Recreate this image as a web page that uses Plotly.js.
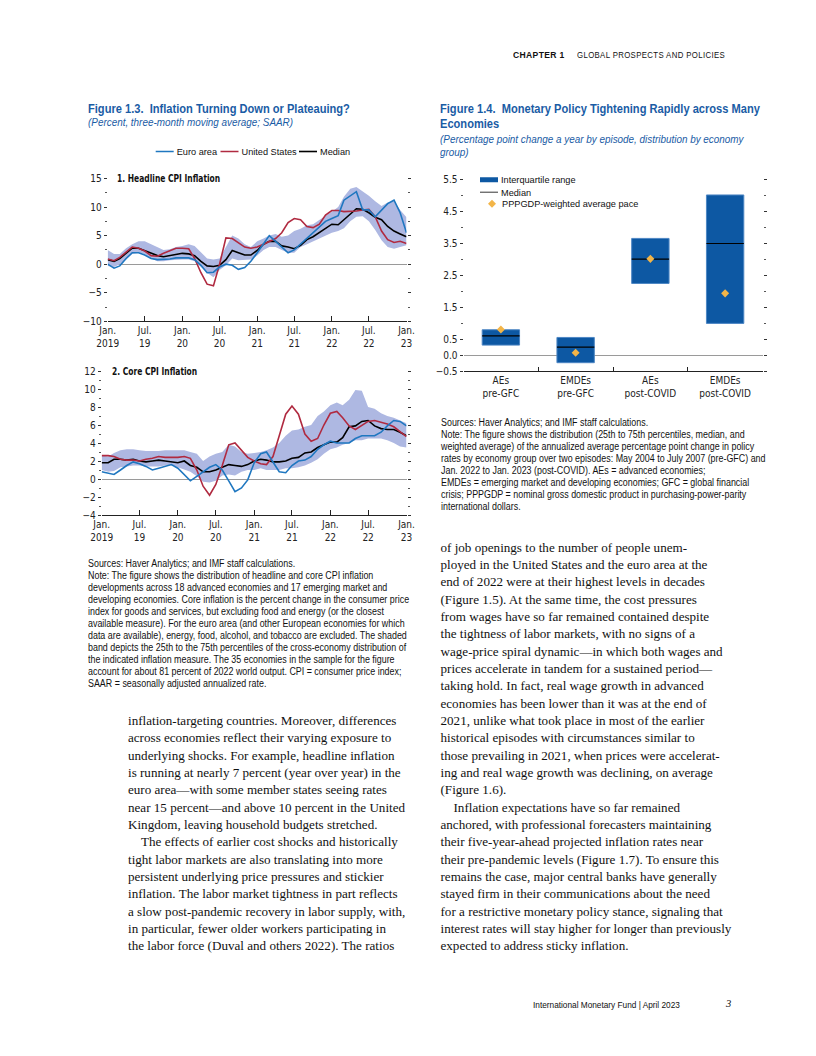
<!DOCTYPE html>
<html><head><meta charset="utf-8">
<script src="https://cdn.plot.ly/plotly-3.0.1.min.js"></script>
<style>
body{margin:0;background:#fff;}
#page{position:relative;width:816px;height:1056px;overflow:hidden;background:#fff;}
#chart{position:absolute;left:0;top:0;width:816px;height:1056px;}
#chart g.legendlines{transform:translate(16px,0px) scale(0.6,1);}
#chart g.legendsymbols{transform:translate(10px,0px);}
.t{position:absolute;white-space:nowrap;z-index:5;color:#111;transform-origin:0 0;}
.nar{font-family:"Liberation Sans",Arial,sans-serif;}
.ser{font-family:"Liberation Serif","Times New Roman",serif;}
.ftitle{font-weight:bold;font-size:12px;color:#1a5ca5;line-height:15.5px;transform:scaleX(0.925);}
.fsub{font-style:italic;font-size:11.5px;color:#1a5ca5;line-height:13.5px;transform:scaleX(0.86);}
.src{font-size:10px;line-height:12px;transform:scaleX(0.89);}
.body{font-size:13.1px;line-height:17.35px;}
.ind{display:inline-block;width:13px;}
</style></head>
<body><div id="page">
<div id="chart"></div>

<div class="t nar" style="left:513px;top:48.5px;font-size:9.5px;line-height:11px;font-weight:bold;letter-spacing:0.4px;transform:scaleX(0.9);">CHAPTER 1</div>
<div class="t nar" style="left:577px;top:48.5px;font-size:9.5px;line-height:11px;letter-spacing:0.45px;transform:scaleX(0.82);">GLOBAL PROSPECTS AND POLICIES</div>

<div class="t nar ftitle" style="left:88px;top:102px;">Figure 1.3.&nbsp; Inflation Turning Down or Plateauing?</div>
<div class="t nar fsub" style="left:88px;top:115.5px;">(Percent, three-month moving average; SAAR)</div>

<div class="t nar ftitle" style="left:440px;top:101.5px;">Figure 1.4.&nbsp; Monetary Policy Tightening Rapidly across Many<br>Economies</div>
<div class="t nar fsub" style="left:440px;top:132.5px;">(Percentage point change a year by episode, distribution by economy<br>group)</div>

<div class="t nar src" style="left:88px;top:558px;">Sources: Haver Analytics; and IMF staff calculations.<br>
Note: The figure shows the distribution of headline and core CPI inflation<br>
developments across 18 advanced economies and 17 emerging market and<br>
developing economies. Core inflation is the percent change in the consumer price<br>
index for goods and services, but excluding food and energy (or the closest<br>
available measure). For the euro area (and other European economies for which<br>
data are available), energy, food, alcohol, and tobacco are excluded. The shaded<br>
band depicts the 25th to the 75th percentiles of the cross-economy distribution of<br>
the indicated inflation measure. The 35 economies in the sample for the figure<br>
account for about 81 percent of 2022 world output. CPI = consumer price index;<br>
SAAR = seasonally adjusted annualized rate.</div>

<div class="t nar src" style="left:441px;top:417px;">Sources: Haver Analytics; and IMF staff calculations.<br>
Note: The figure shows the distribution (25th to 75th percentiles, median, and<br>
weighted average) of the annualized average percentage point change in policy<br>
rates by economy group over two episodes: May 2004 to July 2007 (pre-GFC) and<br>
Jan. 2022 to Jan. 2023 (post-COVID). AEs = advanced economies;<br>
EMDEs = emerging market and developing economies; GFC = global financial<br>
crisis; PPPGDP = nominal gross domestic product in purchasing-power-parity<br>
international dollars.</div>

<div class="t ser body" style="left:128px;top:712px;">inflation-targeting countries. Moreover, differences<br>
across economies reflect their varying exposure to<br>
underlying shocks. For example, headline inflation<br>
is running at nearly 7 percent (year over year) in the<br>
euro area—with some member states seeing rates<br>
near 15 percent—and above 10 percent in the United<br>
Kingdom, leaving household budgets stretched.<br>
<span class="ind"></span>The effects of earlier cost shocks and historically<br>
tight labor markets are also translating into more<br>
persistent underlying price pressures and stickier<br>
inflation. The labor market tightness in part reflects<br>
a slow post-pandemic recovery in labor supply, with,<br>
in particular, fewer older workers participating in<br>
the labor force (Duval and others 2022). The ratios</div>

<div class="t ser body" style="left:440.5px;top:538.5px;">of job openings to the number of people unem-<br>
ployed in the United States and the euro area at the<br>
end of 2022 were at their highest levels in decades<br>
(Figure 1.5). At the same time, the cost pressures<br>
from wages have so far remained contained despite<br>
the tightness of labor markets, with no signs of a<br>
wage-price spiral dynamic—in which both wages and<br>
prices accelerate in tandem for a sustained period—<br>
taking hold. In fact, real wage growth in advanced<br>
economies has been lower than it was at the end of<br>
2021, unlike what took place in most of the earlier<br>
historical episodes with circumstances similar to<br>
those prevailing in 2021, when prices were accelerat-<br>
ing and real wage growth was declining, on average<br>
(Figure 1.6).<br>
<span class="ind"></span>Inflation expectations have so far remained<br>
anchored, with professional forecasters maintaining<br>
their five-year-ahead projected inflation rates near<br>
their pre-pandemic levels (Figure 1.7). To ensure this<br>
remains the case, major central banks have generally<br>
stayed firm in their communications about the need<br>
for a restrictive monetary policy stance, signaling that<br>
interest rates will stay higher for longer than previously<br>
expected to address sticky inflation.</div>

<div class="t nar" style="left:533px;top:998.5px;font-size:9.5px;line-height:11px;transform:scaleX(0.87);">International Monetary Fund | April 2023</div>
<div class="t ser" style="left:726px;top:997.5px;font-size:10.5px;font-style:italic;">3</div>
</div>

<script>
// ---------------- DATA ----------------
const months = [
 '2019-01-01','2019-02-01','2019-03-01','2019-04-01','2019-05-01','2019-06-01','2019-07-01','2019-08-01','2019-09-01','2019-10-01','2019-11-01','2019-12-01',
 '2020-01-01','2020-02-01','2020-03-01','2020-04-01','2020-05-01','2020-06-01','2020-07-01','2020-08-01','2020-09-01','2020-10-01','2020-11-01','2020-12-01',
 '2021-01-01','2021-02-01','2021-03-01','2021-04-01','2021-05-01','2021-06-01','2021-07-01','2021-08-01','2021-09-01','2021-10-01','2021-11-01','2021-12-01',
 '2022-01-01','2022-02-01','2022-03-01','2022-04-01','2022-05-01','2022-06-01','2022-07-01','2022-08-01','2022-09-01','2022-10-01','2022-11-01','2022-12-01',
 '2023-01-01'];

// Panel 1: headline CPI inflation
const headlineEuro = [0.0,-0.7,-0.3,1.0,2.0,2.0,1.6,1.0,0.8,0.8,0.9,1.1,
 1.1,1.1,0.8,-0.2,-1.5,-1.4,-0.5,0.0,-0.2,-0.9,-0.6,0.5,
 2.0,3.5,5.0,4.0,3.0,2.0,2.5,3.5,4.5,5.5,6.5,7.5,
 8.0,8.5,11.2,12.0,12.7,9.5,9.5,8.3,9.5,10.6,11.2,9.0,
 5.5];
const headlineUS = [0.9,0.6,1.2,2.2,3.0,2.8,2.3,1.5,1.4,1.9,2.4,2.8,
 2.8,2.7,1.0,-1.5,-3.5,-3.8,0.0,4.6,4.5,3.8,3.0,2.8,
 3.0,3.5,4.0,4.5,5.5,7.3,8.0,7.8,6.6,6.4,7.0,8.6,
 9.4,9.4,9.2,9.2,9.3,9.5,9.6,8.3,5.8,4.3,3.8,4.0,
 3.6];
const headlineMedian = [0.8,0.5,1.0,2.0,2.8,2.8,2.4,1.9,1.5,1.3,1.5,1.8,
 1.9,1.8,1.5,0.5,-0.3,-0.4,-0.2,0.8,2.4,2.0,1.6,1.6,
 2.4,3.5,4.0,4.0,3.2,3.0,2.7,3.3,4.3,4.8,5.5,6.3,
 7.0,6.9,7.8,8.9,9.7,9.6,9.0,8.2,7.8,6.6,5.8,5.3,
 4.8];
const headlineP25 = [-0.3,-0.5,0.0,0.8,1.8,2.0,1.8,1.0,0.5,0.5,0.7,0.8,
 0.8,0.8,0.5,-0.5,-1.5,-2.3,-1.0,-0.2,1.0,0.7,0.7,0.8,
 1.5,2.5,3.0,3.0,2.5,2.0,2.0,3.0,3.5,4.0,4.5,5.0,
 5.5,5.8,6.3,7.5,8.3,8.4,7.5,6.0,4.2,3.0,2.7,3.0,
 3.3];
const headlineP75 = [2.5,1.8,1.8,2.8,3.5,4.0,4.0,3.5,3.0,2.5,2.6,3.0,
 3.2,3.5,3.2,2.0,1.0,0.8,1.0,3.0,5.0,4.5,3.5,3.0,
 4.0,4.5,5.0,5.3,4.8,5.0,5.8,6.2,6.8,7.0,7.8,8.5,
 9.2,10.0,11.8,13.2,13.5,12.8,12.0,11.0,10.2,10.8,11.0,9.5,
 8.2];

// Panel 2: core CPI inflation
const coreEuro = [0.8,0.6,0.5,1.0,1.5,1.9,1.7,1.4,1.0,1.2,1.4,1.6,
 1.2,0.5,-0.2,0.3,0.8,1.3,1.6,1.0,-0.2,-1.4,-1.0,-0.1,
 1.8,2.8,3.0,1.8,0.8,0.7,1.5,2.0,2.1,2.5,3.3,3.8,
 4.2,4.0,4.0,4.0,4.5,4.8,4.8,4.8,5.2,5.9,6.5,6.4,
 5.9];
const coreUS = [2.6,2.6,2.5,2.2,2.1,2.1,2.0,2.2,2.3,2.5,2.4,2.4,
 2.4,2.5,2.3,1.0,-0.8,-1.8,-0.6,1.5,3.8,4.0,3.2,2.4,
 2.0,1.7,1.6,2.5,4.8,7.2,8.1,7.2,5.0,4.2,4.5,6.0,
 7.3,7.5,6.8,5.9,5.5,6.0,6.4,6.5,6.3,6.1,5.8,5.3,
 4.7];
const coreMedian = [1.8,1.8,2.2,2.2,2.1,2.2,2.0,1.9,2.0,2.1,2.0,1.9,
 1.8,2.0,1.5,1.3,0.8,0.8,1.0,1.3,1.6,1.5,1.4,1.6,
 2.0,2.2,2.1,1.9,1.9,2.0,2.3,2.4,2.9,3.0,3.5,3.8,
 4.1,4.1,4.6,5.8,5.9,6.4,6.5,5.9,5.6,5.5,5.5,5.2,
 4.8];
const coreP25 = [1.0,0.8,0.9,1.3,1.4,1.5,1.5,1.4,1.4,1.4,1.5,1.5,
 1.3,1.0,0.8,0.3,-0.3,-0.4,-0.2,0.4,0.5,0.4,0.8,1.0,
 1.0,1.2,1.0,1.0,1.0,1.2,1.2,1.3,1.5,1.8,2.2,2.8,
 3.3,3.5,3.8,4.0,4.3,4.3,4.5,4.5,4.5,4.3,4.0,3.6,
 3.5];
const coreP75 = [2.6,2.5,2.9,3.2,3.3,3.3,3.2,3.1,3.1,3.1,3.2,3.2,
 3.2,3.2,3.0,2.8,2.0,2.5,2.8,3.0,3.8,3.6,3.0,2.8,
 2.9,3.0,3.2,3.5,4.0,4.8,5.4,5.5,5.8,6.0,7.0,7.5,
 8.2,8.5,8.2,8.8,9.9,9.8,8.0,7.8,7.3,7.0,6.8,6.5,
 6.2];

const dateTicks = ['2019-01-01','2019-07-01','2020-01-01','2020-07-01','2021-01-01','2021-07-01','2022-01-01','2022-07-01','2023-01-01'];
const dateTickText = ['Jan.<br>2019','Jul.<br>19','Jan.<br>20','Jul.<br>20','Jan.<br>21','Jul.<br>21','Jan.<br>22','Jul.<br>22','Jan.<br>23'];

// Figure 1.4: policy rate change distribution
const groups = ['AEs<br>pre-GFC','EMDEs<br>pre-GFC','AEs<br>post-COVID','EMDEs<br>post-COVID'];
const q25 = [0.31, -0.24, 2.24, 0.99];
const q75 = [0.79, 0.55, 3.65, 5.01];
const medians = [0.60, 0.25, 3.00, 3.49];
const weightedAvg = [0.80, 0.07, 3.01, 1.93];
const rateTicks = [-0.5, 0, 0.5, 1.5, 2.5, 3.5, 4.5, 5.5];

// ---------------- STYLE ----------------
const NAR = 'DejaVu Sans Condensed, Liberation Sans, sans-serif';
const LEGFONT = 'Liberation Sans, Arial, sans-serif';
const C_EURO = '#1f77c0', C_US = '#b02a40', C_MED = '#000000', C_BAND = '#aeb8e2';
const C_BOX = '#0d58a3', C_BOXLINE = '#4d86c4', C_DIA = '#f3b548';
const W = 816, H = 1056;
const dx = p => p / W, dy = p => 1 - p / H;

function lineTrace(x, y, color, name, ax, legend) {
  const t = {x, y, type:'scatter', mode:'lines', name, line:{color, width:1.6},
    xaxis:'x'+ax, yaxis:'y'+ax, showlegend:!!legend, hoverinfo:'skip'};
  if (legend) t.legend = legend;
  return t;
}
function bandTraces(x, lo, hi, ax) {
  return [
    {x, y:lo, type:'scatter', mode:'lines', line:{width:0, color:C_BAND}, xaxis:'x'+ax, yaxis:'y'+ax, showlegend:false, hoverinfo:'skip'},
    {x, y:hi, type:'scatter', mode:'lines', line:{width:0, color:C_BAND}, fill:'tonexty', fillcolor:C_BAND, xaxis:'x'+ax, yaxis:'y'+ax, showlegend:false, hoverinfo:'skip'}
  ];
}

const traces = [
  ...bandTraces(months, headlineP25, headlineP75, ''),
  lineTrace(months, headlineMedian, C_MED, 'Median', '', 'legend4'),
  lineTrace(months, headlineUS, C_US, 'United States', '', 'legend3'),
  lineTrace(months, headlineEuro, C_EURO, 'Euro area', '', 'legend'),
  ...bandTraces(months, coreP25, coreP75, '2'),
  lineTrace(months, coreMedian, C_MED, 'Median', '2', null),
  lineTrace(months, coreUS, C_US, 'United States', '2', null),
  lineTrace(months, coreEuro, C_EURO, 'Euro area', '2', null),
  // Figure 1.4
  {x:groups, y:q75.map((v,i)=>v-q25[i]), base:q25, type:'bar', width:0.5,
   marker:{color:C_BOX, line:{color:C_BOXLINE, width:1}}, xaxis:'x3', yaxis:'y3', showlegend:false, hoverinfo:'skip'},
  {x:groups, y:medians, type:'scatter', mode:'markers', marker:{symbol:'line-ew', size:26.7, line:{color:'#000', width:1.2}},
   xaxis:'x3', yaxis:'y3', showlegend:false, hoverinfo:'skip'},
  {x:groups, y:weightedAvg, type:'scatter', mode:'markers', name:'PPPGDP-weighted average pace',
   marker:{symbol:'diamond', size:6.2, color:C_DIA}, xaxis:'x3', yaxis:'y3', legend:'legend6', hoverinfo:'skip'},
  {x:[null], y:[null], type:'scatter', mode:'lines', name:'Interquartile range', line:{color:C_BOX, width:5},
   xaxis:'x3', yaxis:'y3', legend:'legend2'},
  {x:[null], y:[null], type:'scatter', mode:'lines', name:'Median', line:{color:'#000', width:1},
   xaxis:'x3', yaxis:'y3', legend:'legend5'}
];

const yCommon = {ticks:'outside', ticklen:3, tickcolor:'#333', mirror:'ticks', showgrid:false, showline:false,
  zeroline:true, zerolinecolor:'#9a9a9a', zerolinewidth:1, tickfont:{size:10, color:'#222'}};
const xDate = {type:'date', range:['2019-01-01','2023-01-01'], tickmode:'array', tickvals:dateTicks, ticktext:dateTickText,
  ticks:'inside', ticklen:5, tickcolor:'#222', showline:true, linecolor:'#222', linewidth:1, showgrid:false, zeroline:false,
  tickfont:{size:10, color:'#222'}};
function leg(xText, yCenter) {
  return {orientation:'v', x:dx(xText - 40), xanchor:'left', y:dy(yCenter - 14), yanchor:'top',
    font:{family:LEGFONT, size:9.2, color:'#111'}, bgcolor:'rgba(0,0,0,0)', itemwidth:30, tracegroupgap:0};
}

const layout = {
  width:W, height:H, margin:{l:0,r:0,t:0,b:0},
  paper_bgcolor:'rgba(0,0,0,0)', plot_bgcolor:'rgba(0,0,0,0)',
  font:{family:NAR, size:10, color:'#222'},
  showlegend:true,
  legend: leg(176.7, 151),
  legend3: leg(241.5, 151),
  legend4: leg(320, 151),
  legend2: leg(501, 179.3),
  legend5: leg(501, 191.7),
  legend6: leg(502, 203.3),
  xaxis: Object.assign({}, xDate, {domain:[dx(107.7), dx(406.5)], anchor:'y'}),
  yaxis: Object.assign({}, yCommon, {domain:[dy(321.3), dy(178.5)], anchor:'x', range:[-10,15], tickmode:'linear', tick0:0, dtick:5,
    minor:{ticks:'outside', ticklen:2, tickcolor:'#555', dtick:2.5, tick0:0}}),
  xaxis2: Object.assign({}, xDate, {domain:[dx(101.7), dx(406.5)], anchor:'y2'}),
  yaxis2: Object.assign({}, yCommon, {domain:[dy(515), dy(371)], anchor:'x2', range:[-4,12], tickmode:'linear', tick0:0, dtick:2,
    minor:{ticks:'outside', ticklen:2, tickcolor:'#555', dtick:1, tick0:0}}),
  xaxis3:{domain:[dx(463.5), dx(762.5)], anchor:'y3', type:'category', range:[-0.5,3.5], tickson:'boundaries',
    ticks:'inside', ticklen:4, tickcolor:'#222', showline:true, linecolor:'#222', linewidth:1, showgrid:false, zeroline:false,
    tickfont:{size:10, color:'#222'}},
  yaxis3: Object.assign({}, yCommon, {domain:[dy(371), dy(179.3)], anchor:'x3', range:[-0.5,5.5], tickmode:'array',
    tickvals:rateTicks, tickformat:'.1f',
    minor:{ticks:'outside', ticklen:2, tickcolor:'#555', tickmode:'linear', tick0:0, dtick:0.5}}),
  annotations:[
    {xref:'paper', yref:'paper', x:dx(114.5), y:dy(178), xanchor:'left', yanchor:'middle', align:'left', showarrow:false,
     text:'<b>1. Headline CPI Inflation</b>', font:{size:10.5, color:'#111'}},
    {xref:'paper', yref:'paper', x:dx(109.5), y:dy(371), xanchor:'left', yanchor:'middle', align:'left', showarrow:false,
     text:'<b>2. Core CPI Inflation</b>', font:{size:10.5, color:'#111'}}
  ]
};

function condense(el, f) {
  try {
    const len = el.getComputedTextLength();
    if (len > 0) { el.setAttribute('textLength', (len * f).toFixed(1)); el.setAttribute('lengthAdjust', 'spacingAndGlyphs'); }
  } catch (e) {}
}

Plotly.newPlot('chart', traces, layout, {staticPlot:true, displayModeBar:false}).then(gd => {
  gd.querySelectorAll('g.annotation text').forEach(t => condense(t, 0.8));
});
</script>
</body></html>
